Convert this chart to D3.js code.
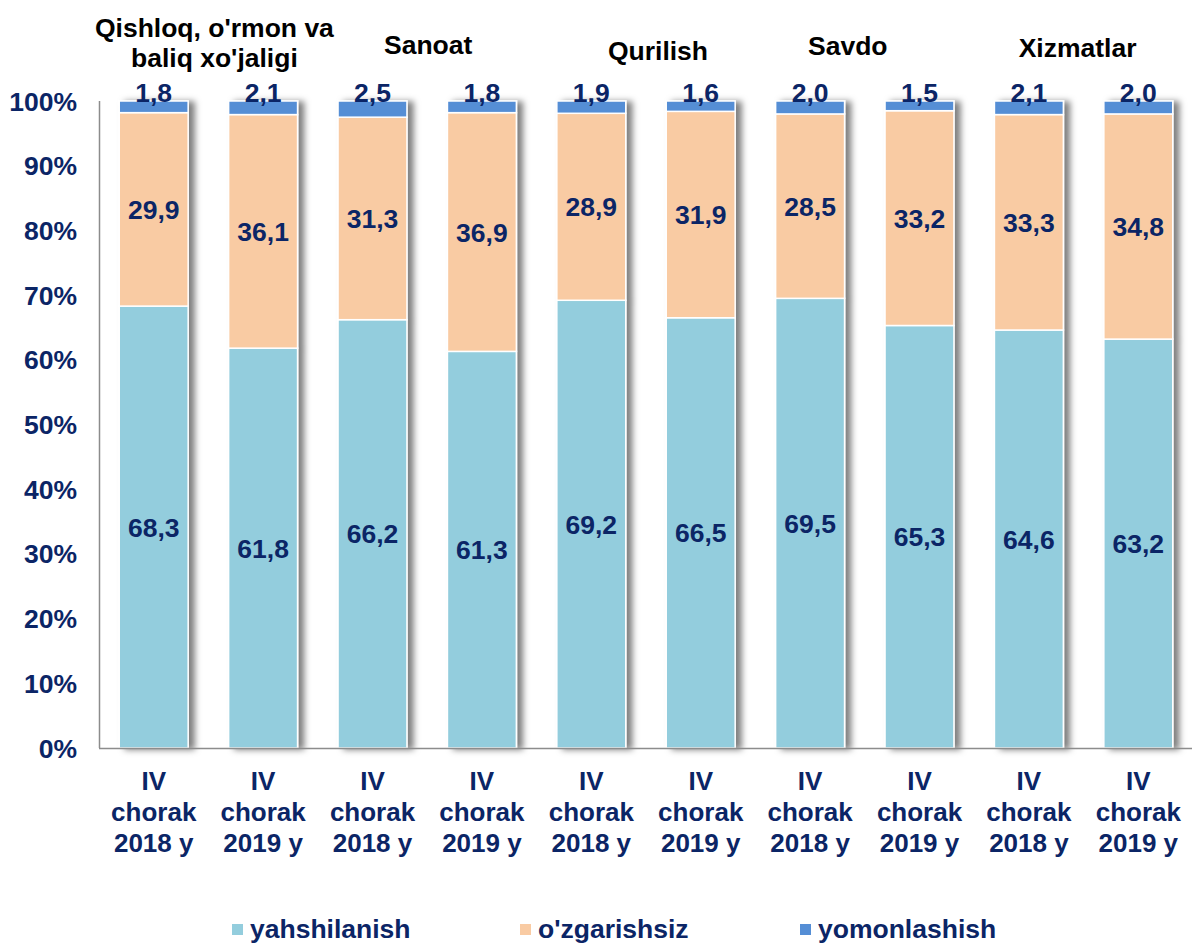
<!DOCTYPE html>
<html>
<head>
<meta charset="utf-8">
<script src="https://cdn.jsdelivr.net/npm/d3@7"></script>
<style>
  body { margin: 0; background: #fff; }
  svg { display: block; font-family: "Liberation Sans", Arial, sans-serif; font-weight: bold; }
</style>
</head>
<body>
<div id="chart"></div>
<script>
// sectors (one heading per pair of bars)
var sectors = [["Qishloq, o'rmon va", "baliq xo'jaligi"], ["Sanoat"], ["Qurilish"], ["Savdo"], ["Xizmatlar"]];
var periods = ["IV chorak 2018 y", "IV chorak 2019 y"];

// series values, bar by bar
var seriesNames = ["yahshilanish", "o'zgarishsiz", "yomonlashish"];
var yahshilanish = [68.3, 61.8, 66.2, 61.3, 69.2, 66.5, 69.5, 65.3, 64.6, 63.2];
var ozgarishsiz = [29.9, 36.1, 31.3, 36.9, 28.9, 31.9, 28.5, 33.2, 33.3, 34.8];
var yomonlashish = [1.8, 2.1, 2.5, 1.8, 1.9, 1.6, 2.0, 1.5, 2.1, 2.0];

var yTicks = [0, 10, 20, 30, 40, 50, 60, 70, 80, 90, 100];

var colors = ["#93CDDD", "#F9CBA3", "#558ED5"];
var navy = "#0B2566";
var fs = 26.5;

var width = 1192, height = 945;
var svg = d3.select("#chart").append("svg")
    .attr("width", width)
    .attr("height", height);

// drop shadow on the right side of each bar
var defs = svg.append("defs");
var filt = defs.append("filter").attr("id", "shadow")
    .attr("x", "-20%").attr("y", "-5%").attr("width", "160%").attr("height", "110%");
filt.append("feDropShadow")
    .attr("dx", 6).attr("dy", 1)
    .attr("stdDeviation", 3)
    .attr("flood-color", "#000")
    .attr("flood-opacity", 0.5);

// build bar rows
var bars = yahshilanish.map(function (v, i) {
    return {
        id: i,
        sector: Math.floor(i / 2),
        period: periods[i % 2],
        values: [v, ozgarishsiz[i], yomonlashish[i]]
    };
});
bars.forEach(function (d) {
    var base = 0;
    d.segs = d.values.map(function (v, k) {
        var s = {k: k, base: base, peak: base + v, value: v};
        base += v;
        return s;
    });
});

var x = d3.scaleBand()
    .domain(bars.map(function (d) { return d.id; }))
    .range([99, 1193])
    .paddingInner(0.37)
    .paddingOuter(0.185);

var y = d3.scaleLinear()
    .domain([0, 100])
    .range([748, 101]);

var fmt = function (v) { return d3.format(".1f")(v).replace(".", ","); };

// axes lines
svg.append("line")
    .attr("x1", 99.5).attr("x2", 99.5)
    .attr("y1", y(100)).attr("y2", y(0))
    .attr("stroke", "#8c8c8c").attr("stroke-width", 1.5);

// y tick labels
svg.selectAll(".ytick")
    .data(yTicks)
    .enter().append("text")
    .attr("class", "ytick")
    .attr("x", 77)
    .attr("y", function (d) { return y(d); })
    .attr("dy", "0.36em")
    .attr("text-anchor", "end")
    .attr("fill", navy)
    .attr("font-size", fs)
    .text(function (d) { return d + "%"; });

// stacked bars
var barG = svg.selectAll(".bar")
    .data(bars)
    .enter().append("g")
    .attr("class", "bar")
    .attr("transform", function (d) { return "translate(" + x(d.id) + ",0)"; });

barG.append("g")
    .attr("filter", "url(#shadow)")
    .selectAll("rect")
    .data(function (d) { return d.segs; })
    .enter().append("rect")
    .attr("x", 0)
    .attr("width", x.bandwidth())
    .attr("y", function (d) { return y(d.peak); })
    .attr("height", function (d) { return y(d.base) - y(d.peak); })
    .attr("fill", function (d) { return colors[d.k]; })
    .attr("stroke", "#fff")
    .attr("stroke-width", 1.5);

// bottom axis line drawn over bar bottoms
svg.append("line")
    .attr("x1", 99).attr("x2", width)
    .attr("y1", y(0) + 0.5).attr("y2", y(0) + 0.5)
    .attr("stroke", "#8c8c8c").attr("stroke-width", 1.5);

// value labels
barG.selectAll(".val")
    .data(function (d) { return d.segs; })
    .enter().append("text")
    .attr("class", "val")
    .attr("x", x.bandwidth() / 2)
    .attr("y", function (d) {
        return d.k === 2 ? y(d.peak) + 1 : y((d.base + d.peak) / 2);
    })
    .attr("dy", function (d) { return d.k === 2 ? "0" : "0.36em"; })
    .attr("text-anchor", "middle")
    .attr("fill", navy)
    .attr("font-size", fs)
    .text(function (d) { return fmt(d.value); });

// x labels (three lines)
barG.append("text")
    .attr("text-anchor", "middle")
    .attr("fill", navy)
    .attr("font-size", 26)
    .selectAll("tspan")
    .data(function (d) {
        var p = d.period.split(" ");
        return [p[0], p[1], p[2] + " " + p[3]];
    })
    .enter().append("tspan")
    .attr("x", x.bandwidth() / 2)
    .attr("y", function (d, i) { return 790 + i * 31; })
    .text(function (d) { return d; });

// sector headings above each pair
var headingNudge = [6, 1, 12, -17, -6];
var headY = [[37, 67], [54], [60], [55], [57]];
var heads = svg.selectAll(".head")
    .data(sectors)
    .enter().append("text")
    .attr("class", "head")
    .attr("text-anchor", "middle")
    .attr("fill", "#000")
    .attr("font-size", fs);
heads.selectAll("tspan")
    .data(function (d, i) { return d.map(function (t, j) { return {t: t, i: i, j: j}; }); })
    .enter().append("tspan")
    .attr("x", function (d) { return x(d.i * 2) + x.step() - (x.step() - x.bandwidth()) / 2 + headingNudge[d.i]; })
    .attr("y", function (d) { return headY[d.i][d.j]; })
    .text(function (d) { return d.t; });

// legend
var legendX = [232, 520, 800];
var legend = svg.selectAll(".legend")
    .data(seriesNames)
    .enter().append("g")
    .attr("class", "legend")
    .attr("transform", function (d, i) { return "translate(" + legendX[i] + ",928)"; });
legend.append("rect")
    .attr("x", 0).attr("y", -4)
    .attr("width", 11).attr("height", 11)
    .attr("fill", function (d, i) { return colors[i]; });
legend.append("text")
    .attr("x", 18)
    .attr("dy", "0.36em")
    .attr("fill", navy)
    .attr("font-size", fs)
    .text(function (d) { return d; });
</script>
</body>
</html>
